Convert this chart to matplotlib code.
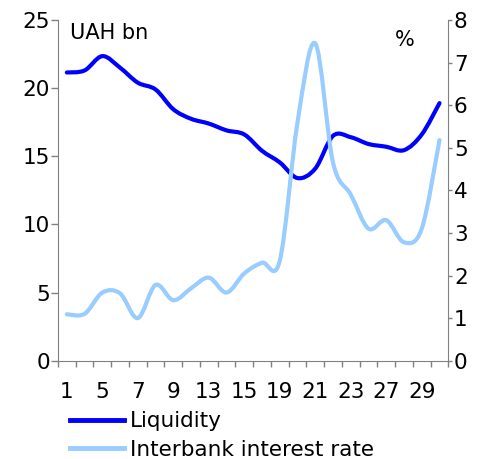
import numpy as np
import matplotlib.pyplot as plt
from matplotlib.path import Path
from matplotlib.patches import PathPatch
from matplotlib.lines import Line2D

# business days of the month
days = [1, 2, 5, 6, 7, 8, 9, 12, 13, 14, 15, 16, 19, 20, 21, 22, 23, 26, 27, 28, 29, 30]
liquidity = [21.15, 21.3, 22.35, 21.5, 20.4, 19.9, 18.45, 17.75, 17.4, 16.9, 16.6,
             15.4, 14.55, 13.4, 14.1, 16.5, 16.4, 15.9, 15.7, 15.45, 16.6, 18.9]
interbank = [1.09, 1.1, 1.6, 1.58, 1.0, 1.78, 1.42, 1.7, 1.95, 1.6, 2.05,
             2.3, 2.35, 5.6, 7.45, 4.65, 3.9, 3.1, 3.3, 2.78, 3.1, 5.18]

DARK = '#0000ff'
LIGHT = '#99ccff'
GREY = '#808080'
FS = 15.5


def smooth_path(xs, ys):
    # excel-like smoothed line: catmull-rom segments as cubic beziers
    p = np.column_stack([xs, ys]).astype(float)
    ext = np.vstack([p[0], p, p[-1]])
    verts = [p[0]]
    codes = [Path.MOVETO]
    for i in range(len(p) - 1):
        p0, p1, p2, p3 = ext[i], ext[i + 1], ext[i + 2], ext[i + 3]
        verts += [p1 + (p2 - p0) / 6, p2 - (p3 - p1) / 6, p2]
        codes += [Path.CURVE4] * 3
    return Path(verts, codes)


x = np.arange(len(days))

fig = plt.figure(figsize=(4.78, 4.59), dpi=100)
ax = fig.add_axes([0.1213, 0.2142, 0.8167, 0.7422])
ax2 = ax.twinx()

ax.add_patch(PathPatch(smooth_path(x, liquidity), fill=False, ec=DARK, lw=3.0,
                       capstyle='round', joinstyle='round', zorder=3))
ax2.add_patch(PathPatch(smooth_path(x, interbank), fill=False, ec=LIGHT, lw=3.0,
                        capstyle='round', joinstyle='round', zorder=2))

ax.set_xlim(-0.5, len(days) - 0.5)
ax.set_ylim(0, 25)
ax2.set_ylim(0, 8)
ax.set_yticks([0, 5, 10, 15, 20, 25])
ax2.set_yticks(range(0, 9))

ax.set_xticks(np.arange(-0.5, len(days), 1.0))
ax.set_xticklabels([])
ax.set_xticks(x[::2], minor=True)
ax.set_xticklabels([str(d) for d in days[::2]], minor=True)

for a in (ax, ax2):
    a.spines['top'].set_visible(False)
    for s in ('left', 'right', 'bottom'):
        a.spines[s].set_color(GREY)
ax.spines['right'].set_visible(False)
ax2.spines['left'].set_visible(False)
ax2.spines['bottom'].set_visible(False)

ax.tick_params(axis='y', length=4.7, width=1, color=GREY, labelsize=FS, pad=1)
ax2.tick_params(axis='y', length=3, width=1, color=GREY, labelsize=FS, pad=1)
ax.tick_params(axis='x', which='major', length=4.3, width=1, color=GREY)
ax.tick_params(axis='x', which='minor', length=0, labelsize=FS, pad=15)

ax.text(0.03, 0.99, 'UAH bn', transform=ax.transAxes, fontsize=15,
        ha='left', va='top')
ax.text(0.888, 0.97, '%', transform=ax.transAxes, fontsize=15,
        ha='center', va='top')

handles = [Line2D([], [], color=DARK, lw=3.5), Line2D([], [], color=LIGHT, lw=3.5)]
fig.legend(handles, ['Liquidity', 'Interbank interest rate'], loc='upper left',
           bbox_to_anchor=(0.146, 0.104), frameon=False, fontsize=FS,
           handlelength=2.5, handletextpad=0.28, labelspacing=0.4,
           borderaxespad=0, borderpad=0)

fig.savefig('out.png', dpi=100)
